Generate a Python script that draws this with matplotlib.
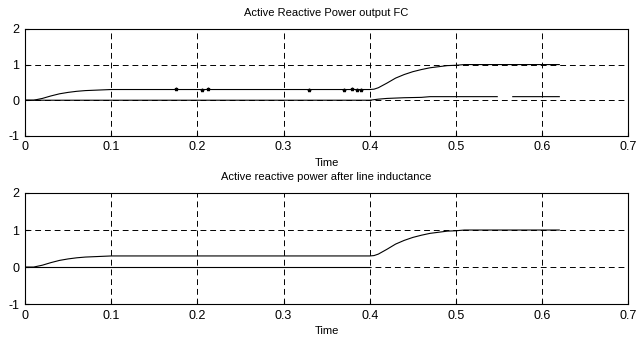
import numpy as np
import matplotlib.pyplot as plt

plt.rcParams['font.family'] = ['Liberation Sans Narrow', 'Liberation Sans', 'DejaVu Sans']
plt.rcParams['font.stretch'] = 'condensed'
plt.rcParams['axes.unicode_minus'] = False

# active power (top and bottom share the same shape)
t_p = [0, 0.01, 0.02, 0.03, 0.04, 0.05, 0.06, 0.07, 0.08, 0.1, 0.2, 0.3, 0.4,
       0.405, 0.41, 0.42, 0.43, 0.44, 0.45, 0.46, 0.47, 0.48, 0.49, 0.5, 0.51, 0.55, 0.62]
p = [0, 0, 0.05, 0.12, 0.18, 0.22, 0.25, 0.27, 0.28, 0.3, 0.3, 0.3, 0.3,
     0.31, 0.35, 0.48, 0.62, 0.72, 0.8, 0.86, 0.91, 0.94, 0.97, 0.98, 1.0, 1.0, 1.0]

# reactive power at the FC output (gap around 0.55)
t_q1 = [0, 0.4, 0.41, 0.42, 0.44, 0.46, 0.47, 0.5, 0.548, 0.549, 0.566, 0.62]
q1 = [0, 0, 0.03, 0.05, 0.07, 0.08, 0.1, 0.1, 0.1, np.nan, 0.1, 0.1]

# reactive power after line inductance
t_q2 = [0, 0.4]
q2 = [0, 0]

# small glitches visible on the FC active power trace
t_g = [0.175, 0.205, 0.212, 0.33, 0.37, 0.38, 0.385, 0.39]
g = [0.31, 0.3, 0.31, 0.3, 0.3, 0.31, 0.3, 0.3]

fig = plt.figure(figsize=(6.43, 3.44), dpi=100)
ax1 = fig.add_axes([0.039, 0.605, 0.938, 0.311])
ax2 = fig.add_axes([0.039, 0.116, 0.938, 0.323])

ax1.plot(t_p, p, color='black', lw=0.8)
ax1.plot(t_q1, q1, color='black', lw=0.8)
ax1.plot(t_g, g, 'k*', ms=2.5)
ax1.set_title('Active Reactive Power output FC', fontsize=8, pad=9)

ax2.plot(t_p, p, color='black', lw=0.8)
ax2.plot(t_q2, q2, color='black', lw=0.8)
ax2.set_title('Active reactive power after line inductance', fontsize=8, pad=9)

for ax in (ax1, ax2):
    ax.set_xlim(0, 0.7)
    ax.set_ylim(-1, 2)
    ax.set_xticks([0, 0.1, 0.2, 0.3, 0.4, 0.5, 0.6, 0.7])
    ax.set_xticklabels(['0', '0.1', '0.2', '0.3', '0.4', '0.5', '0.6', '0.7'])
    ax.set_yticks([-1, 0, 1, 2])
    ax.grid(True, color='black', linestyle=(0, (6, 4)), lw=0.7)
    ax.tick_params(labelsize=9, direction='in', length=3, pad=4)
    ax.set_xlabel('Time', fontsize=8, labelpad=3)
    for s in ax.spines.values():
        s.set_linewidth(0.8)

fig.savefig('out.png', dpi=100)
